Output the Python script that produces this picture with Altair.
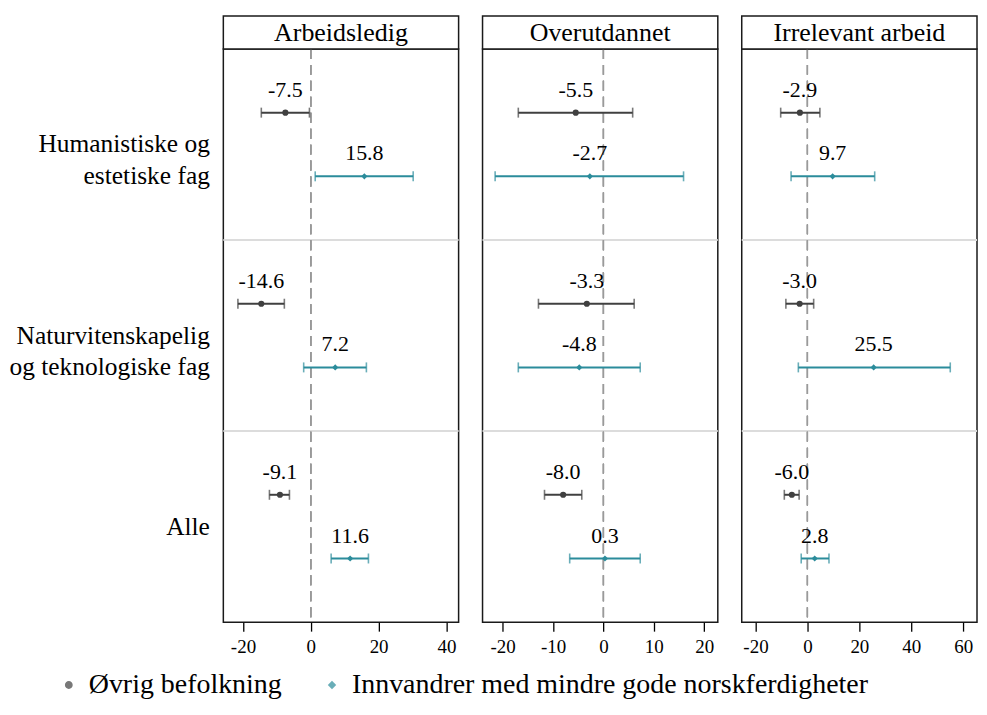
import altair as alt
import pandas as pd

FONT = "Liberation Serif"

measures = ["Arbeidsledig", "Overutdannet", "Irrelevant arbeid"]
groups = ["Humanistiske og\nestetiske fag", "Naturvitenskapelig\nog teknologiske fag", "Alle"]
series = ["Øvrig befolkning", "Innvandrer med mindre gode norskferdigheter"]

# order: (group1: black, teal), (group2: black, teal), (group3: black, teal)
est_arbeidsledig = [-7.5, 15.8, -14.6, 7.2, -9.1, 11.6]
lo_arbeidsledig = [-14.6, 1.3, -21.5, -2.1, -12.2, 6.0]
hi_arbeidsledig = [-0.4, 30.2, -7.8, 16.4, -6.3, 17.0]

est_overutdannet = [-5.5, -2.7, -3.3, -4.8, -8.0, 0.3]
lo_overutdannet = [-16.9, -21.5, -12.9, -16.9, -11.7, -6.7]
hi_overutdannet = [5.8, 15.9, 6.1, 7.3, -4.3, 7.3]

est_irrelevant = [-2.9, 9.7, -3.0, 25.5, -6.0, 2.8]
lo_irrelevant = [-10.3, -6.3, -8.3, -3.5, -8.9, -2.4]
hi_irrelevant = [4.8, 25.9, 2.4, 55.0, -3.2, 8.3]

x_domains = [[-25.8, 43.6], [-24.0, 22.7], [-25.3, 65.3]]
x_ticks = [[-20, 0, 20, 40], [-20, -10, 0, 10, 20], [-20, 0, 20, 40, 60]]

colors = ["#404040", "#2b8c9b"]
shapes = ["circle", "diamond"]

ests = [est_arbeidsledig, est_overutdannet, est_irrelevant]
los = [lo_arbeidsledig, lo_overutdannet, lo_irrelevant]
his = [hi_arbeidsledig, hi_overutdannet, hi_irrelevant]

rows = []
for mi, m in enumerate(measures):
    k = 0
    for g in groups:
        for s in series:
            v = ests[mi][k]
            rows.append({"measure": m, "group": g, "series": s,
                         "est": v, "lo": los[mi][k], "hi": his[mi][k],
                         "lbl": f"{v:.1f}"})
            k += 1
df = pd.DataFrame(rows)
sep_df = pd.DataFrame({"group": groups[1:]})

W = 236
H = 575
HH = 33

legend = alt.Legend(title=None, orient="none", legendX=-169, legendY=624,
                    direction="horizontal", labelFont=FONT, labelFontSize=28,
                    labelColor="black", symbolSize=40, columnPadding=36,
                    labelOffset=6, labelLimit=800)
color_enc = alt.Color("series:N", sort=series,
                      scale=alt.Scale(domain=series, range=colors), legend=legend)
shape_enc = alt.Shape("series:N", sort=series,
                      scale=alt.Scale(domain=series, range=shapes), legend=legend)


def panel(i, m):
    d = df[df["measure"] == m]
    yaxis = alt.Axis(title=None, ticks=False, domain=False, grid=False,
                     labelFont=FONT, labelFontSize=25.5, labelColor="black",
                     labelPadding=14, labelLimit=400, labelLineHeight=32,
                     labelExpr="split(datum.label, '\\n')") if i == 0 else None
    yscale = alt.Scale(domain=groups, paddingInner=0, paddingOuter=0)
    xscale = alt.Scale(domain=x_domains[i], nice=False, zero=False)
    xaxis = alt.Axis(title=None, values=x_ticks[i], grid=False, domain=False,
                     tickColor="black", tickSize=9, tickWidth=1.3,
                     labelFont=FONT, labelFontSize=19, labelColor="black", labelPadding=6,
                     labelExpr="toString(datum.value)")

    y_enc = alt.Y("group:N", sort=groups, scale=yscale, axis=yaxis)
    yoff = alt.YOffset("series:N", sort=series,
                       scale=alt.Scale(domain=series, paddingInner=0, paddingOuter=0.5))

    sep = alt.Chart(sep_df).mark_rule(color="#dcdcdc", strokeWidth=2).encode(
        y=alt.Y("group:N", sort=groups, scale=yscale, axis=yaxis, bandPosition=0)
    )
    zero = alt.Chart(d).mark_rule(color="#9a9a9a", strokeWidth=1.2, strokeDash=[10, 6]).encode(
        x=alt.datum(0, scale=xscale)
    )
    base = alt.Chart(d).encode(y=y_enc, yOffset=yoff)
    bars = base.mark_rule(strokeWidth=2).encode(
        x=alt.X("lo:Q", scale=xscale, axis=xaxis), x2="hi:Q", color=color_enc)
    cap_lo = base.mark_tick(size=10, thickness=1.6, orient="vertical").encode(
        x=alt.X("lo:Q", scale=xscale), color=color_enc)
    cap_hi = base.mark_tick(size=10, thickness=1.6, orient="vertical").encode(
        x=alt.X("hi:Q", scale=xscale), color=color_enc)
    pts = base.mark_point(filled=True, opacity=1, size=38).encode(
        x=alt.X("est:Q", scale=xscale), color=color_enc, shape=shape_enc)
    labels = base.mark_text(font=FONT, fontSize=22, color="black", dy=-23,
                            baseline="middle", align="center").encode(
        x=alt.X("est:Q", scale=xscale), text="lbl:N")

    # panel header box drawn above the plot area
    hdf = pd.DataFrame({"m": [m]})
    hbox = alt.Chart(hdf).mark_rect(fill="white", stroke="#1a1a1a", strokeWidth=1.5).encode(
        x=alt.value(0), x2=alt.value(W), y=alt.value(-HH), y2=alt.value(0))
    htext = alt.Chart(hdf).mark_text(
        font=FONT, fontSize=26, color="black", baseline="middle", align="center").encode(
        text="m:N", x=alt.value(W / 2), y=alt.value(-HH / 2 + 1))

    return alt.layer(sep, zero, bars, cap_lo, cap_hi, pts, labels, hbox, htext).properties(
        width=W, height=H)


chart = alt.hconcat(*[panel(i, m) for i, m in enumerate(measures)], spacing=20).properties(
    padding={"left": 0, "top": 5, "right": 0, "bottom": 0}, background="white"
).configure_view(stroke="#1a1a1a", strokeWidth=1.5)

chart.save("out.html", embed_options={"renderer": "svg", "actions": False})
